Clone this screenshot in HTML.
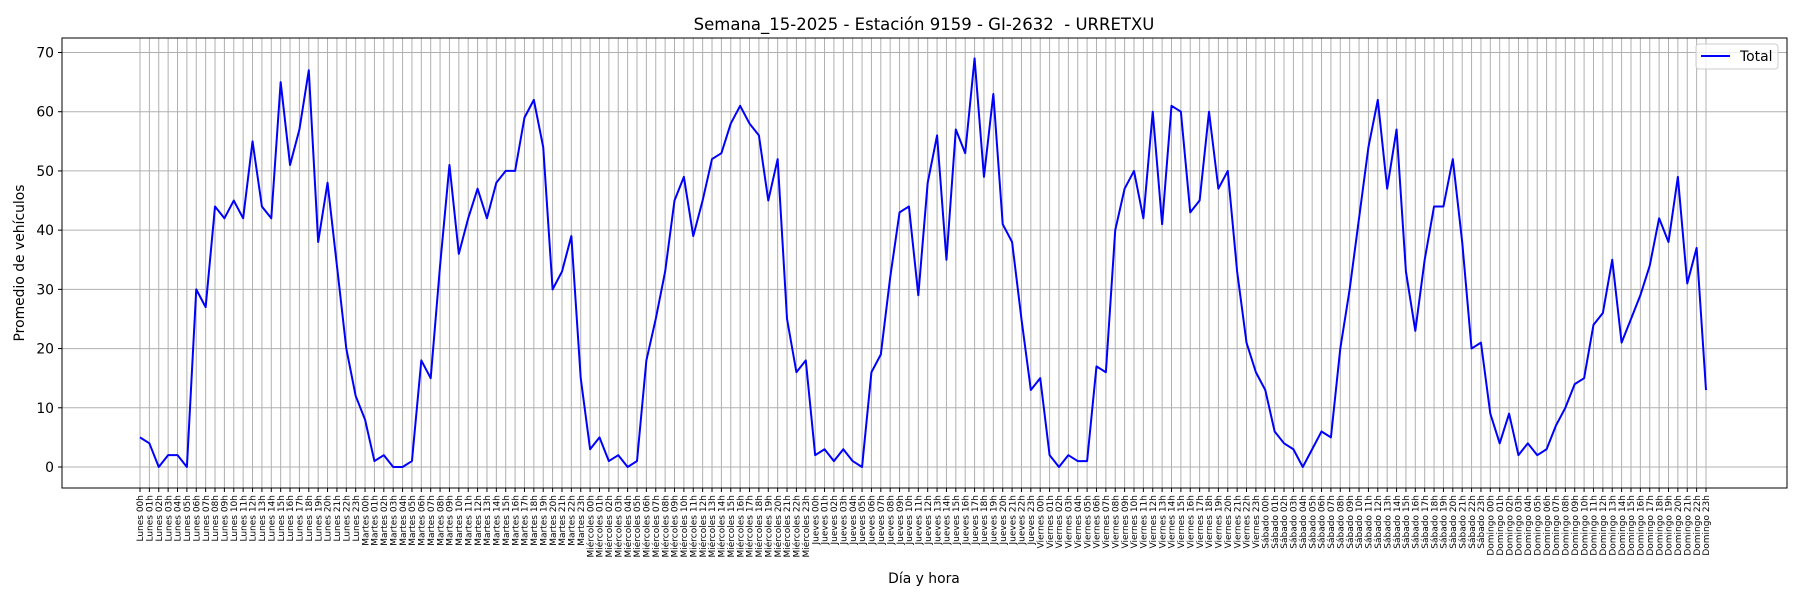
<!DOCTYPE html>
<html><head><meta charset="utf-8"><style>
html,body{margin:0;padding:0;background:#fff;}
svg{display:block;font-family:"DejaVu Sans","Liberation Sans",sans-serif;}
</style></head><body>
<svg id="chart" width="1800" height="600" viewBox="0 0 1800 600" xmlns="http://www.w3.org/2000/svg">
<rect x="0" y="0" width="1800" height="600" fill="#fff"/>
<text x="924" y="30" font-size="16.5" text-anchor="middle" fill="#000" style="white-space:pre">Semana_15-2025 - Estación 9159 - GI-2632  - URRETXU</text>
<g id="grid"></g>
<g id="yticks"></g>
<g id="xticks"></g>
<polyline id="line" fill="none" stroke="#0000ff" stroke-width="2" stroke-linejoin="round"/>
<rect x="62" y="38" width="1725" height="450" fill="none" stroke="#000" stroke-width="1"/>
<text x="24" y="263" font-size="13.9" text-anchor="middle" transform="rotate(-90 24 263)">Promedio de vehículos</text>
<text x="924" y="583" font-size="13.9" text-anchor="middle">Día y hora</text>
<g>
<rect x="1696" y="44" width="82" height="25" rx="3" fill="#fff" fill-opacity="0.8" stroke="#ccc"/>
<line x1="1701" y1="56" x2="1730" y2="56" stroke="#0000ff" stroke-width="2"/>
<text x="1740" y="61" font-size="13.9">Total</text>
</g>
</svg>
<script>
const days = ["Lunes","Martes","Miércoles","Jueves","Viernes","Sábado","Domingo"];
const hours = ["00h","01h","02h","03h","04h","05h","06h","07h","08h","09h","10h","11h","12h","13h","14h","15h","16h","17h","18h","19h","20h","21h","22h","23h"];
const lunes = [5,4,0,2,2,0,30,27,44,42,45,42,55,44,42,65,51,57,67,38,48,34,20,12];
const martes = [8,1,2,0,0,1,18,15,34,51,36,42,47,42,48,50,50,59,62,54,30,33,39,15];
const miercoles = [3,5,1,2,0,1,18,25,33,45,49,39,45,52,53,58,61,58,56,45,52,25,16,18];
const jueves = [2,3,1,3,1,0,16,19,32,43,44,29,48,56,35,57,53,69,49,63,41,38,25,13];
const viernes = [15,2,0,2,1,1,17,16,40,47,50,42,60,41,61,60,43,45,60,47,50,33,21,16];
const sabado = [13,6,4,3,0,3,6,5,20,30,42,54,62,47,57,33,23,35,44,44,52,38,20,21];
const domingo = [9,4,9,2,4,2,3,7,10,14,15,24,26,35,21,25,29,34,42,38,49,31,37,13];
const yTicks = [0,10,20,30,40,50,60,70];

const values = [].concat(lunes,martes,miercoles,jueves,viernes,sabado,domingo);
const labels = [];
days.forEach(d => hours.forEach(h => labels.push(d + " " + h)));

const NS = "http://www.w3.org/2000/svg";
const x0 = 140, x1 = 1706;
const xScale = i => x0 + (x1 - x0) * i / (labels.length - 1);
const yScale = v => 467 - (467 - 52.5) * v / 70;

const grid = document.getElementById("grid");
const yt = document.getElementById("yticks");
const xt = document.getElementById("xticks");

yTicks.forEach(t => {
  const y = yScale(t);
  const gl = document.createElementNS(NS, "line");
  gl.setAttribute("x1", 62); gl.setAttribute("x2", 1787);
  gl.setAttribute("y1", y); gl.setAttribute("y2", y);
  gl.setAttribute("stroke", "#b0b0b0"); gl.setAttribute("stroke-width", "1");
  
  
  grid.appendChild(gl);
  const tk = document.createElementNS(NS, "line");
  tk.setAttribute("x1", 58); tk.setAttribute("x2", 62);
  tk.setAttribute("y1", y); tk.setAttribute("y2", y);
  tk.setAttribute("stroke", "#000");
  
  
  yt.appendChild(tk);
  const tx = document.createElementNS(NS, "text");
  tx.setAttribute("x", 54); tx.setAttribute("y", y + 5);
  tx.setAttribute("font-size", "13.9"); tx.setAttribute("text-anchor", "end");
  tx.textContent = t;
  
  
  yt.appendChild(tx);
});

labels.forEach((lab, i) => {
  const x = xScale(i);
  const gl = document.createElementNS(NS, "line");
  gl.setAttribute("x1", x); gl.setAttribute("x2", x);
  gl.setAttribute("y1", 38); gl.setAttribute("y2", 488);
  gl.setAttribute("stroke", "#b0b0b0"); gl.setAttribute("stroke-width", "1");
  
  
  grid.appendChild(gl);
  const tk = document.createElementNS(NS, "line");
  tk.setAttribute("x1", x); tk.setAttribute("x2", x);
  tk.setAttribute("y1", 488); tk.setAttribute("y2", 492);
  tk.setAttribute("stroke", "#000");
  
  
  xt.appendChild(tk);
  const tx = document.createElementNS(NS, "text");
  const ty = 495;
  tx.setAttribute("x", x + 3.2); tx.setAttribute("y", ty);
  tx.setAttribute("font-size", "9"); tx.setAttribute("text-anchor", "end");
  tx.setAttribute("transform", "rotate(-90 " + (x + 3.2) + " " + ty + ")");
  tx.textContent = lab;
  
  
  xt.appendChild(tx);
});

document.getElementById("line").setAttribute("points",
  values.map((v, i) => xScale(i).toFixed(2) + "," + yScale(v).toFixed(2)).join(" "));
</script>
</body></html>
